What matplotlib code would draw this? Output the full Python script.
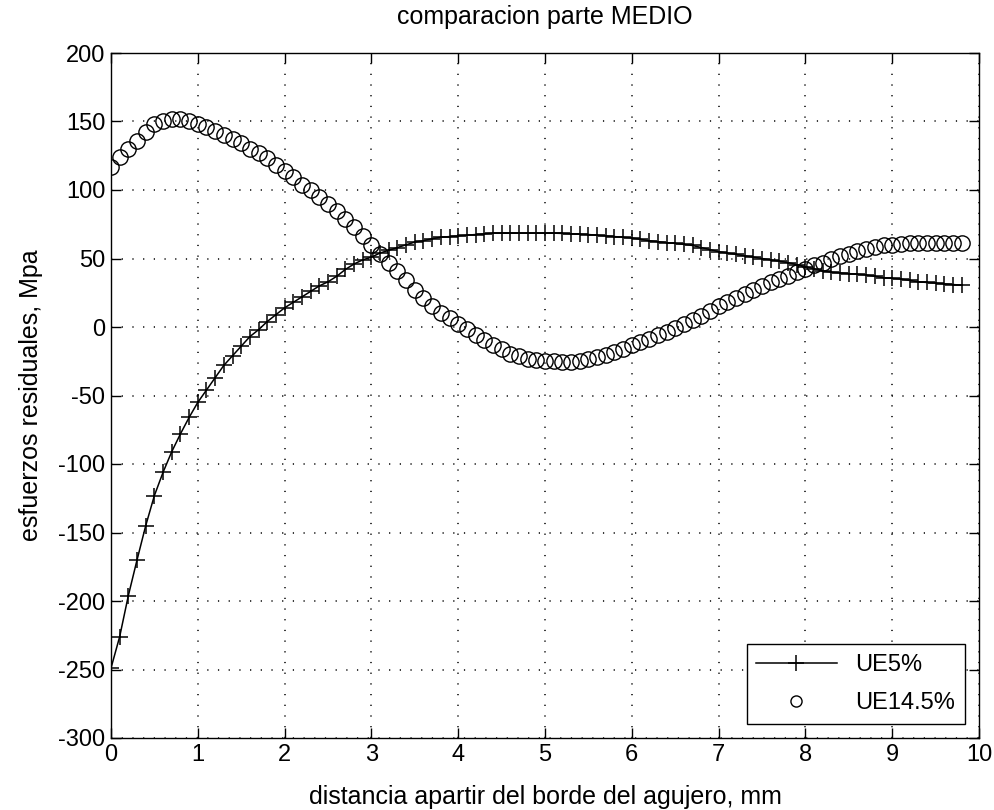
import matplotlib
matplotlib.use("Agg")
import matplotlib.pyplot as plt

# distance from the hole edge, mm (0.1 mm step)
dist = [round(0.1 * i, 1) for i in range(99)]

ue5 = [
    -249, -226, -196, -170, -145, -123, -106, -91, -78, -66,
    -55, -46, -37, -28, -21, -14, -7, -2, 4, 9,
    14, 18, 22, 26, 30, 33, 37, 42, 46, 49,
    51, 54, 56, 58, 60, 62, 63, 64.5, 65.5, 66,
    66.5, 67, 67.5, 68, 68.5, 68.5, 68.5, 68.5, 68.5, 68.5,
    68.5, 68.5, 68.3, 68, 67.8, 67.5, 67, 66.5, 66, 65.5,
    65, 64, 63, 62.3, 61.6, 61, 60.3, 59.5, 58, 56.5,
    55, 54, 53, 52, 51, 50, 49, 48, 47, 45.5,
    44, 42.5, 41, 40, 39.5, 39, 38.5, 38, 37, 36,
    35.5, 35, 34, 33, 32.5, 32, 31.5, 31, 30.5,
]

ue145 = [
    117, 124, 130, 136, 142, 148, 150.5, 151.5, 151.5, 150.5,
    148.5, 146, 143, 140, 137, 134, 130, 127, 123, 118.5,
    114, 109.5, 104, 100, 95, 90, 84.5, 79, 73, 66.5,
    60, 53, 47, 41, 34, 27, 21, 15, 10, 6.5,
    2.5, -1.5, -5.5, -9.5, -13, -16, -19.5, -21.5, -23, -24,
    -24.5, -25, -25.3, -25.3, -24.5, -23.5, -22, -20.5, -18.5, -16,
    -13.5, -11, -9, -6, -3.5, -1, 2.5, 5, 8, 11.5,
    15, 18, 21, 24, 27, 30, 32.5, 35, 37.5, 40,
    42.5, 45, 47, 49.5, 51.5, 53.5, 55.5, 57, 58.5, 59.5,
    60, 60.5, 61, 61, 61, 61, 61, 61, 61,
]

xticks = list(range(0, 11))
yticks = list(range(-300, 201, 50))

plt.rcParams["font.family"] = ["Liberation Sans", "DejaVu Sans"]
plt.rcParams["axes.unicode_minus"] = False
fs = 17
fs_lab = 18

fig = plt.figure(figsize=(9.94, 8.1), dpi=100)
ax = fig.add_axes([111 / 994, 72 / 810, 868 / 994, 685 / 810])

ax.plot(dist, ue5, "-", color="black", marker="+", markersize=12,
        markeredgewidth=1.1, linewidth=1.1, label="UE5%")
ax.plot(dist, ue145, linestyle="none", marker="o", markersize=11,
        markerfacecolor="none", markeredgecolor="black",
        markeredgewidth=1.0, label="UE14.5%")

ax.set_xlim(0, 10)
ax.set_ylim(-300, 200)
ax.set_xticks(xticks)
ax.set_yticks(yticks)
ax.grid(True, color="black", linestyle=(0, (0.8, 6.2)), linewidth=1.1)
ax.tick_params(direction="in", top=True, right=True, length=7, width=1,
               labelsize=fs, pad=4)
for s in ax.spines.values():
    s.set_linewidth(1.0)

ax.set_title("comparacion parte MEDIO", fontsize=fs_lab, pad=21)
ax.set_xlabel("distancia apartir del borde del agujero, mm", fontsize=fs_lab,
              labelpad=14)
ax.set_ylabel("esfuerzos residuales, Mpa", fontsize=fs_lab, labelpad=11)

leg = ax.legend(loc="lower right", fontsize=fs, frameon=True, fancybox=False,
                edgecolor="black", framealpha=1, handlelength=3.4,
                borderaxespad=0.6, borderpad=0.4, labelspacing=0.7)
leg.get_frame().set_linewidth(1.0)
leg.legend_handles[1].set_markersize(8)

fig.savefig("out.png", dpi=100)
